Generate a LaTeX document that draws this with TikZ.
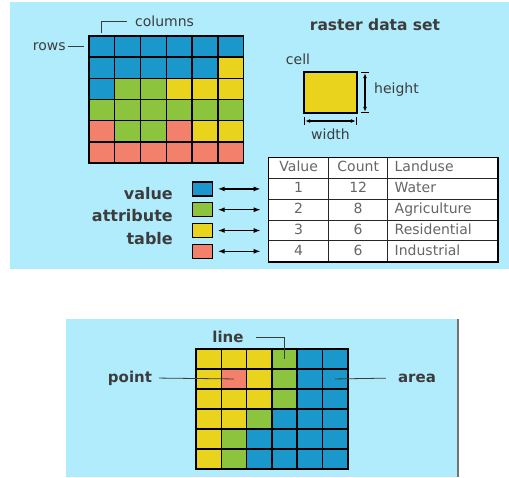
\documentclass[tikz,border=0pt]{standalone}
\usepackage{fontspec}
\setmainfont{DejaVu Sans}
\usepackage{xcolor}
\usepackage{tikz}
\usetikzlibrary{matrix,positioning,arrows.meta}

\definecolor{skyback}{HTML}{B1ECFC}
\definecolor{cblue}{HTML}{1A98CC}
\definecolor{cgreen}{HTML}{8CC43E}
\definecolor{cyellow}{HTML}{EAD31C}
\definecolor{cred}{HTML}{F2806A}
\definecolor{inkgray}{HTML}{3C3C3C}

\tikzset{
  bl/.style={fill=cblue}, gr/.style={fill=cgreen},
  ye/.style={fill=cyellow}, rd/.style={fill=cred},
  lbl/.style={text=inkgray, inner sep=2pt, font=\fontsize{14}{16}\selectfont},
  biglbl/.style={text=inkgray, font=\bfseries\fontsize{16}{22.5}\selectfont},
  plbl/.style={text=inkgray, inner sep=2pt, font=\bfseries\fontsize{15}{17}\selectfont},
  lead/.style={draw=inkgray, line width=0.8pt},
  link/.style={<->, >={Latex[length=7pt,width=5pt]}, line width=1.4pt, shorten <=5pt, shorten >=8pt},
  dim/.style={|<->|, >={Latex[length=5pt,width=4pt]}, line width=1.2pt},
  key/.style={draw, line width=1.4pt, minimum width=20pt, minimum height=14pt, inner sep=0pt, outer sep=0pt},
}

\begin{document}
\begin{tikzpicture}[x=1pt, y=-1pt]
    \useasboundingbox (0,0) rectangle (509,477);
    \fill[white] (0,0) rectangle (509,477);

    % raster data set panel
    \fill[skyback] (10,2) rectangle (509,269);

    \matrix (grid) [matrix of nodes, nodes in empty cells, anchor=north west, inner sep=0pt,
      nodes={draw, line width=1.4pt, minimum width=25.8pt, minimum height=21.2pt, inner sep=0pt, outer sep=0pt},
      column sep=-1.4pt, row sep=-1.4pt] at (88,35) {
      |[bl]| & |[bl]| & |[bl]| & |[bl]| & |[bl]| & |[bl]| \\
      |[bl]| & |[bl]| & |[bl]| & |[bl]| & |[bl]| & |[ye]| \\
      |[bl]| & |[gr]| & |[gr]| & |[ye]| & |[ye]| & |[ye]| \\
      |[gr]| & |[gr]| & |[gr]| & |[gr]| & |[gr]| & |[gr]| \\
      |[rd]| & |[gr]| & |[gr]| & |[rd]| & |[ye]| & |[ye]| \\
      |[rd]| & |[rd]| & |[rd]| & |[rd]| & |[rd]| & |[rd]| \\
    };

    \node[lbl, anchor=west] (cols) at (133,21) {columns};
    \node[lbl, left=21pt of grid-1-1] (rows) {rows};
    \draw[lead, shorten >=6pt] ([yshift=3pt]grid-1-1.north) |- (cols.west);
    \draw[lead, shorten >=5pt] (rows.east) -- (grid-1-1.west);

    \node[text=inkgray, font=\bfseries\fontsize{15.5}{18}\selectfont] (title) at (375,25) {raster data set};

    \node[ye, draw, line width=1.4pt, minimum width=53pt, minimum height=41pt,
      inner sep=0pt, outer sep=0pt, anchor=north west] (cellsq) at (304,72) {};
    \node[lbl] (celllbl) at (298,59) {cell};
    \draw[dim] ([xshift=8pt]cellsq.north east) -- ([xshift=8pt]cellsq.south east);
    \node[lbl, anchor=west] (hgt) at (372,90) {height};
    \draw[dim] ([yshift=-8pt]cellsq.south west) -- ([yshift=-8pt]cellsq.south east);
    \node[lbl, below=14pt of cellsq] (wdt) {width};

    % value attribute table
    \matrix (tab) [matrix of nodes, anchor=north west, inner sep=0pt, column sep=-1pt, row sep=-1pt,
      nodes={draw=black!85, line width=1pt, fill=white, text=black!60, font=\fontsize{14}{16}\selectfont,
        minimum height=20.8pt, text height=11pt, text depth=3.5pt, inner ysep=0pt, outer sep=0pt},
      column 1/.style={nodes={minimum width=60pt}},
      column 2/.style={nodes={minimum width=59pt}},
      column 3/.style={nodes={text width=96pt, inner xsep=7pt, align=left}}] at (268,157) {
      Value & Count & Landuse \\
      1 & 12 & Water \\
      2 & 8 & Agriculture \\
      3 & 6 & Residential \\
      4 & 6 & Industrial \\
    };
    \draw[line width=1.8pt] ([shift={(0.5pt,-0.5pt)}]tab.north west) rectangle ([shift={(-0.5pt,0.5pt)}]tab.south east);

    \node[key, bl, left=56pt of tab-2-1] (k1) {};
    \node[key, gr, left=56pt of tab-3-1] (k2) {};
    \node[key, ye, left=56pt of tab-4-1] (k3) {};
    \node[key, rd, left=56pt of tab-5-1] (k4) {};
    \draw[link] (k1) -- (tab-2-1);
    \draw[link] (k2) -- (tab-3-1);
    \draw[link] (k3) -- (tab-4-1);
    \draw[link] (k4) -- (tab-5-1);

    \node[biglbl, align=right, anchor=east, inner sep=0pt] (vat) at (173,216) {value\\attribute\\table};

    % point, line, area panel
    \fill[skyback] (66,319) rectangle (457,477);
    \draw[line width=2pt, black!55] (458,319) -- (458,477);

    \matrix (bgrid) [matrix of nodes, nodes in empty cells, anchor=north west, inner sep=0pt,
      nodes={draw, line width=1.5pt, minimum width=25.3pt, minimum height=20pt, inner sep=0pt, outer sep=0pt},
      column sep=-1.5pt, row sep=-1.5pt] at (195,348) {
      |[ye]| & |[ye]| & |[ye]| & |[gr]| & |[bl]| & |[bl]| \\
      |[ye]| & |[rd]| & |[ye]| & |[gr]| & |[bl]| & |[bl]| \\
      |[ye]| & |[ye]| & |[ye]| & |[gr]| & |[bl]| & |[bl]| \\
      |[ye]| & |[ye]| & |[gr]| & |[bl]| & |[bl]| & |[bl]| \\
      |[ye]| & |[gr]| & |[bl]| & |[bl]| & |[bl]| & |[bl]| \\
      |[ye]| & |[gr]| & |[bl]| & |[bl]| & |[bl]| & |[bl]| \\
    };

    \node[plbl] (linelbl) at (228,337) {line};
    \node[plbl] (pointlbl) at (130,378) {point};
    \node[plbl] (arealbl) at (417,378) {area};
    \draw[lead, shorten <=10pt] (linelbl.east) -| (bgrid-1-4.center);
    \draw[lead, shorten <=5pt] (pointlbl.east) -- (bgrid-2-2.center);
    \draw[lead, shorten <=10pt] (arealbl.west) -- (bgrid-2-6.center);

  \end{tikzpicture}
\end{document}
